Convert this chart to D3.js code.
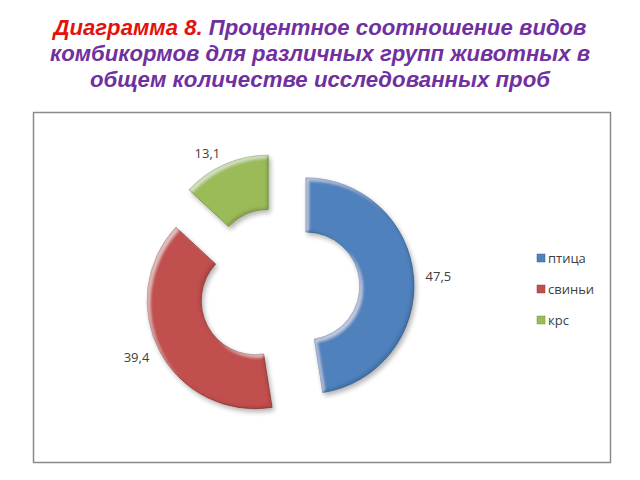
<!DOCTYPE html>
<html><head><meta charset="utf-8">
<script src="https://cdn.jsdelivr.net/npm/d3@7"></script>
<style>html,body{margin:0;padding:0;background:#fff;}</style>
</head><body>
<svg id="chart" width="640" height="480"></svg>
<script>
const categories = ["птица", "свиньи", "крс"];
const values = [47.5, 39.4, 13.1];
const valueLabels = ["47,5", "39,4", "13,1"];
const colors = ["#4f81bd", "#c0504d", "#9bbb59"];
const darkColors = ["#3a6595", "#973c3a", "#76923f"];
const titleParts = [
  [{t: "Диаграмма 8. ", c: "#e3120b"}, {t: "Процентное соотношение видов", c: "#7030a0"}],
  [{t: "комбикормов для различных групп животных в", c: "#7030a0"}],
  [{t: "общем количестве исследованных проб", c: "#7030a0"}]
];

const svg = d3.select("#chart");
const defs = svg.append("defs");
const f = defs.append("filter").attr("id", "bevel").attr("x", "-20%").attr("y", "-20%").attr("width", "140%").attr("height", "140%");
f.append("feGaussianBlur").attr("in", "SourceAlpha").attr("stdDeviation", 1.6).attr("result", "blur");
f.append("feOffset").attr("in", "blur").attr("dx", 2.5).attr("dy", 2.5).attr("result", "offDR");
f.append("feOffset").attr("in", "blur").attr("dx", -2.5).attr("dy", -2.5).attr("result", "offUL");
f.append("feComposite").attr("in", "blur").attr("in2", "offDR").attr("operator", "arithmetic")
  .attr("k1", 0).attr("k2", 1).attr("k3", -1).attr("k4", 0).attr("result", "hiEdge");
f.append("feComposite").attr("in", "blur").attr("in2", "offUL").attr("operator", "arithmetic")
  .attr("k1", 0).attr("k2", 1).attr("k3", -1).attr("k4", 0).attr("result", "shEdge");
f.append("feFlood").attr("flood-color", "#ffffff").attr("flood-opacity", 0.55).attr("result", "white");
f.append("feComposite").attr("in", "white").attr("in2", "hiEdge").attr("operator", "in").attr("result", "hiC");
f.append("feComposite").attr("in", "hiC").attr("in2", "SourceAlpha").attr("operator", "in").attr("result", "hi");
f.append("feFlood").attr("flood-color", "#000000").attr("flood-opacity", 0.35).attr("result", "black");
f.append("feComposite").attr("in", "black").attr("in2", "shEdge").attr("operator", "in").attr("result", "shC");
f.append("feComposite").attr("in", "shC").attr("in2", "SourceAlpha").attr("operator", "in").attr("result", "sh");
f.append("feOffset").attr("in", "SourceAlpha").attr("dx", 2).attr("dy", 3).attr("result", "off");
f.append("feGaussianBlur").attr("in", "off").attr("stdDeviation", 2.5).attr("result", "offBlur");
f.append("feComponentTransfer").attr("in", "offBlur").attr("result", "shadow")
  .append("feFuncA").attr("type", "linear").attr("slope", 0.3);
const m = f.append("feMerge");
m.append("feMergeNode").attr("in", "shadow");
m.append("feMergeNode").attr("in", "SourceGraphic");
m.append("feMergeNode").attr("in", "hi");
m.append("feMergeNode").attr("in", "sh");

// Frame
svg.append("rect").attr("x", 33.5).attr("y", 112.5).attr("width", 577).attr("height", 350)
  .attr("fill", "#fff").attr("stroke", "#8a8a8a").attr("stroke-width", 1.5);

// Title
const title = svg.append("text").attr("text-anchor", "middle")
  .attr("font-family", "'Liberation Sans', Arial, sans-serif")
  .attr("font-weight", "bold").attr("font-style", "italic").attr("font-size", 21.5);
const lineY = [35, 61, 87];
const lineW = [533, 540, 460];
titleParts.forEach((parts, i) => {
  const ln = title.append("tspan").attr("x", 320).attr("y", lineY[i])
    .attr("textLength", lineW[i]).attr("lengthAdjust", "spacingAndGlyphs");
  parts.forEach(p => ln.append("tspan").attr("fill", p.c).text(p.t));
});

// Doughnut
const cx = 279, cy = 288, rOuter = 108, rInner = 54, explode = 27;
const pie = d3.pie().sort(null).value(d => d)(values);
const arc = d3.arc().innerRadius(rInner).outerRadius(rOuter);
const g = svg.append("g").attr("transform", `translate(${cx},${cy})`);
pie.forEach((p, i) => {
  const mid = (p.startAngle + p.endAngle) / 2;
  const dx = Math.sin(mid), dy = -Math.cos(mid);
  const sg = g.append("g").attr("transform", `translate(${dx * explode},${dy * explode})`);
  sg.append("path").attr("d", arc(p)).attr("fill", colors[i])
    .attr("stroke", darkColors[i]).attr("stroke-width", 0.8).attr("filter", "url(#bevel)");
  const lr = rOuter + 12;
  const anchor = dx > 0.3 ? "start" : (dx < -0.3 ? "end" : "middle");
  sg.append("text").attr("x", dx * lr).attr("y", dy * lr)
    .attr("text-anchor", anchor).attr("dominant-baseline", "central")
    .attr("font-family", "'Open Sans', 'Liberation Sans', sans-serif").attr("font-size", 13)
    .attr("fill", "#404040").text(valueLabels[i]);
});

// Legend
const legend = svg.append("g").attr("transform", "translate(537,258)");
categories.forEach((c, i) => {
  const lg = legend.append("g").attr("transform", `translate(0,${i * 31})`);
  lg.append("rect").attr("x", 0).attr("y", -4).attr("width", 8).attr("height", 8)
    .attr("fill", colors[i]).attr("stroke", darkColors[i]).attr("stroke-width", 0.5);
  lg.append("text").attr("x", 11).attr("y", 0).attr("dominant-baseline", "central")
    .attr("font-family", "'Open Sans', 'Liberation Sans', sans-serif").attr("font-size", 13)
    .attr("fill", "#404040").text(c);
});
</script>
</body></html>
